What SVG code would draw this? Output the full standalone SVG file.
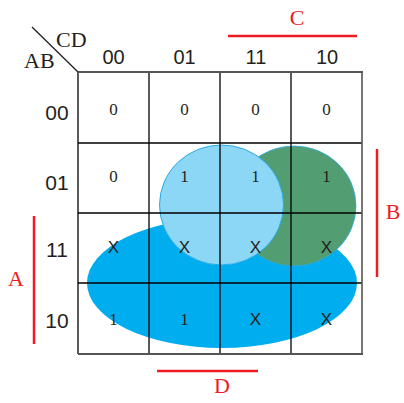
<svg xmlns="http://www.w3.org/2000/svg" width="404" height="403" viewBox="0 0 404 403">
<style>
.hdr{font-family:"Liberation Sans",Arial,sans-serif;font-size:20px;fill:#231f20;text-anchor:middle}
.rowl{font-family:"Liberation Sans",Arial,sans-serif;font-size:21px;fill:#231f20;text-anchor:middle}
.ser{font-family:"Liberation Serif","Times New Roman",serif;font-size:22px;fill:#231f20}
.val{font-family:"Liberation Serif","Times New Roman",serif;font-size:17px;fill:#231f20;text-anchor:middle}
.xv{font-family:"Liberation Sans",Arial,sans-serif;font-size:17px;fill:#231f20;text-anchor:middle}
.red{font-family:"Liberation Serif","Times New Roman",serif;font-size:22px;fill:#ed1c24;text-anchor:middle}
.rl{stroke:#ed1c24;stroke-width:2.5}
.g{stroke:#000;stroke-width:1.3;fill:none}
</style>
<rect width="404" height="403" fill="#fff"/>
<g id="groups">
<ellipse id="grp-ab" cx="222" cy="283" rx="135" ry="65" fill="#00aeef"/>
<ellipse id="grp-green" cx="294" cy="206" rx="62" ry="60" fill="#529e72" stroke="#29abe2" stroke-width="0.8"/>
<ellipse id="grp-light" cx="221.5" cy="205" rx="62" ry="60" fill="#8dd7f6" stroke="#29abe2" stroke-width="1"/>
</g>
<g id="grid">
<line class="g" x1="149" y1="72" x2="149" y2="354"/>
<line class="g" x1="220" y1="72" x2="220" y2="354"/>
<line class="g" x1="291" y1="72" x2="291" y2="354"/>
<line class="g" x1="78" y1="143" x2="362" y2="143"/>
<line class="g" x1="78" y1="213" x2="362" y2="213"/>
<line class="g" x1="78" y1="283" x2="362" y2="283"/>
<line class="g" x1="78" y1="72" x2="78" y2="354"/>
<line x1="78" y1="72" x2="363" y2="72" stroke="#555" stroke-width="2"/>
<line x1="78" y1="354" x2="363" y2="354" stroke="#555" stroke-width="2"/>
<line x1="362" y1="72" x2="362" y2="354" stroke="#555" stroke-width="1.6"/>
<line x1="32" y1="27" x2="78" y2="72" stroke="#231f20" stroke-width="1.3"/>
</g>
<g id="labels">
<text class="ser" x="56" y="47">CD</text>
<text class="ser" x="24" y="68">AB</text>
<text class="hdr" x="113.5" y="64">00</text>
<text class="hdr" x="184.5" y="64">01</text>
<text class="hdr" x="256" y="64">11</text>
<text class="hdr" x="327" y="64">10</text>
<text class="rowl" x="57" y="120">00</text>
<text class="rowl" x="57" y="190">01</text>
<text class="rowl" x="57" y="257">11</text>
<text class="rowl" x="57" y="328">10</text>
</g>
<g id="cells">
<text class="val" x="113.5" y="115">0</text>
<text class="val" x="184.5" y="115">0</text>
<text class="val" x="255.5" y="115">0</text>
<text class="val" x="326.5" y="115">0</text>
<text class="val" x="113.5" y="182">0</text>
<text class="val" x="184.5" y="182">1</text>
<text class="val" x="255.5" y="182">1</text>
<text class="val" x="326.5" y="182">1</text>
<text class="xv" x="113.5" y="253">X</text>
<text class="xv" x="184.5" y="253">X</text>
<text class="xv" x="255.5" y="253">X</text>
<text class="xv" x="326.5" y="253">X</text>
<text class="val" x="113.5" y="325">1</text>
<text class="val" x="184.5" y="325">1</text>
<text class="xv" x="255.5" y="325">X</text>
<text class="xv" x="326.5" y="325">X</text>
</g>
<g id="vars">
<line class="rl" x1="228" y1="36" x2="357" y2="36"/>
<text class="red" x="297" y="25">C</text>
<line class="rl" x1="377" y1="149" x2="377" y2="277"/>
<text class="red" x="393" y="219">B</text>
<line class="rl" x1="34" y1="216" x2="34" y2="344"/>
<text class="red" x="16" y="286">A</text>
<line class="rl" x1="157" y1="371" x2="258" y2="371"/>
<text class="red" x="222" y="393">D</text>
</g>
</svg>
